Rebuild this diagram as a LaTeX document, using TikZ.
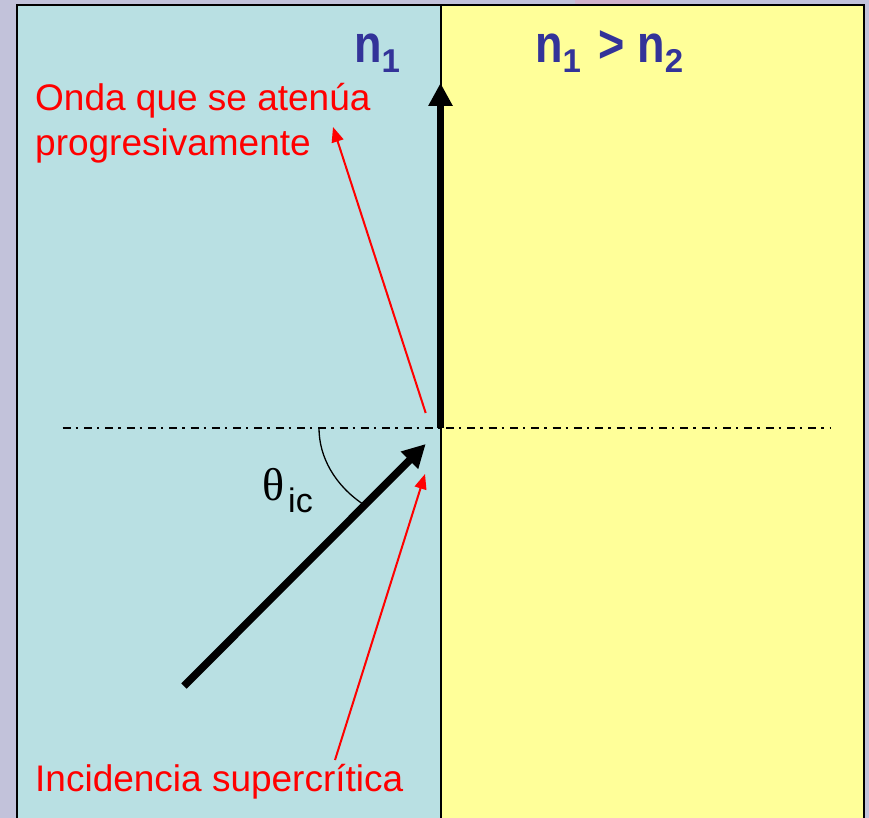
\documentclass[tikz,border=0pt]{standalone}
\usepackage{fontspec}
\setmainfont{Liberation Sans}
\newfontfamily\serifgr{Liberation Serif}
\usetikzlibrary{arrows.meta}
\definecolor{bgl}{RGB}{194,194,218}
\definecolor{cyanp}{RGB}{185,224,227}
\definecolor{yelp}{RGB}{255,255,153}
\definecolor{nblue}{RGB}{51,51,153}
\definecolor{pinkb}{RGB}{210,178,204}
\tikzset{
  redlabel/.style={text=red, inner sep=0pt, anchor=base west, font=\fontsize{37}{45}\selectfont},
  nlabel/.style={text=nblue, inner sep=0pt, anchor=base west, font=\fontsize{45}{45}\selectfont\bfseries},
  thickarrow/.style={line width=7.5pt, -{Triangle[length=23pt,width=23pt]}},
  redarrow/.style={red, line width=2pt, -{Triangle[length=15pt,width=12pt]}},
  panel/.style={line width=2pt, draw=black}
}
\newcommand{\subone}[1]{\lower10pt\hbox{\fontsize{33}{33}\selectfont\bfseries #1}}
\newcommand{\nbig}[1]{\scalebox{1}[1.18]{#1}}
\begin{document}
\begin{tikzpicture}[x=1pt,y=-1pt]
\useasboundingbox (0,0) rectangle (869,818);
\clip (0,0) rectangle (869,818);
\fill[bgl] (0,0) rectangle (869,818);
\fill[pinkb] (575,0) rectangle (650,4);
% panels
\fill[cyanp] (17,5) rectangle (441,830);
\fill[yelp] (441,5) rectangle (864,830);
\draw[panel] (17,830) -- (17,5) -- (864,5) -- (864,830);
\draw[panel] (441,5) -- (441,830);
% normal line
\coordinate (dl) at (62.7,428);
\coordinate (dr) at (831,428);
\draw[line width=2pt, dash pattern=on 8pt off 5pt on 2.3pt off 6pt] (dl) -- (dr);
% corner and arrows
\coordinate (O) at (440.5,428);
\coordinate (vtip) at (440.5,83);
\coordinate (incs) at (184,686);
\coordinate (inct) at (425.7,444);
\draw[thickarrow] (O) -- (vtip);
\draw[thickarrow] (incs) -- (inct);
% angle arc
\coordinate (arcs) at (319,428);
\draw[line width=1.3pt] (arcs) arc[start angle=180, end angle=130, x radius=122, y radius=99];
% labels
\node[redlabel] (onda1) at (35,111) {Onda que se atenúa};
\node[redlabel] (onda2) at (35,156) {progresivamente};
\node[redlabel] (incl) at (35,791) {Incidencia supercrítica};
\node[nlabel] (n1) at (354,63) {\nbig{n}\subone{1}};
\node[nlabel] (n12) at (535,63) {\nbig{n}\subone{1}\hspace*{17pt}\nbig{>}\hspace*{13pt}\nbig{n}\subone{2}};
\node[inner sep=0pt, anchor=base west, font=\fontsize{46}{46}\serifgr] (theta) at (262,500) {θ};
\node[inner sep=0pt, anchor=base west, font=\fontsize{34}{34}\selectfont] (ic) at (288,512) {ic};
% red pointers
\coordinate (r1s) at (425.7,413);
\coordinate (r1t) at (333,127);
\coordinate (r2s) at (335,760);
\coordinate (r2t) at (425,474);
\draw[redarrow] (r1s) -- (r1t);
\draw[redarrow] (r2s) -- (r2t);
\end{tikzpicture}
\end{document}
